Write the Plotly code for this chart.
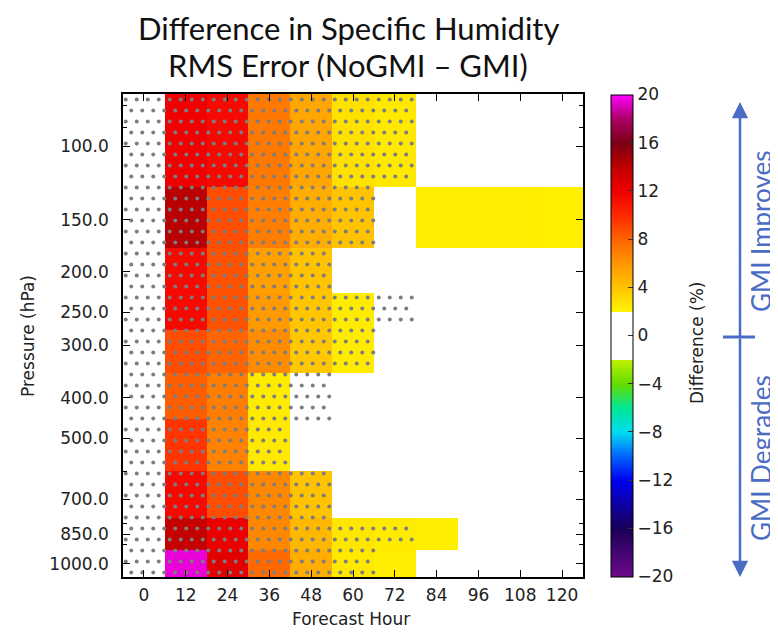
import numpy as np
import plotly.graph_objects as go

# ---------------- data ----------------
hours = [0, 12, 24, 36, 48, 60, 72, 84, 96, 108, 120]
levels = [100, 150, 200, 250, 300, 400, 500, 700, 850, 1000]
level_labels = [f"{p:.1f}" for p in levels]

# difference (%) rows = pressure levels (top to bottom), cols = forecast hours
diff = [
    [0.5, 12.0, 11.5, 7.2, 5.3, 2.8, 2.5, 0.8, 0.5, 0.3, 0.2],   # 100
    [0.6, 14.2, 8.8, 7.0, 5.0, 4.0, 1.2, 2.3, 2.3, 2.3, 2.2],    # 150
    [0.3, 11.5, 8.6, 5.6, 4.0, 1.0, 0.8, 0.5, 0.4, 0.3, 0.2],    # 200
    [0.3, 11.5, 8.6, 5.8, 3.9, 2.4, 1.5, 0.6, 0.4, 0.3, 0.2],    # 250
    [0.4, 8.8, 8.0, 6.4, 3.8, 2.4, 1.0, 0.5, 0.4, 0.3, 0.2],     # 300
    [0.4, 8.2, 7.0, 2.4, 1.8, 0.9, 0.5, 0.4, 0.3, 0.2, 0.2],     # 400
    [0.3, 9.6, 6.8, 2.5, 1.2, 0.6, 0.4, 0.3, 0.3, 0.2, 0.1],     # 500
    [0.3, 11.5, 8.8, 6.6, 4.0, 1.5, 0.8, 0.5, 0.3, 0.2, 0.1],    # 700
    [0.5, 13.8, 12.2, 6.6, 4.5, 2.6, 2.4, 2.3, 1.0, 0.5, 0.3],   # 850
    [0.5, 19.5, 12.6, 7.8, 5.0, 2.5, 2.3, 1.5, 0.8, 0.4, 0.2],   # 1000
]

# 1 = statistically significant (stippled)
significant = [
    [1, 1, 1, 1, 1, 1, 1, 0, 0, 0, 0],
    [1, 1, 1, 1, 1, 1, 0, 0, 0, 0, 0],
    [1, 1, 1, 1, 1, 0, 0, 0, 0, 0, 0],
    [1, 1, 1, 1, 1, 1, 1, 0, 0, 0, 0],
    [1, 1, 1, 1, 1, 1, 0, 0, 0, 0, 0],
    [1, 1, 1, 1, 1, 0, 0, 0, 0, 0, 0],
    [1, 1, 1, 1, 0, 0, 0, 0, 0, 0, 0],
    [1, 1, 1, 1, 1, 0, 0, 0, 0, 0, 0],
    [1, 1, 1, 1, 1, 1, 1, 0, 0, 0, 0],
    [1, 1, 1, 1, 1, 1, 0, 0, 0, 0, 0],
]

cb_ticks = [20, 16, 12, 8, 4, 0, -4, -8, -12, -16, -20]
cb_values = [-20, -16, -12, -10, -8, -6, -4, -2, -2, 2, 2, 4, 6, 8, 10, 12, 14, 16, 18, 20]
cb_colors = ["#6e0a8c", "#1a0058", "#0000f0", "#0064ff", "#00dcf0", "#00e696",
             "#64dc00", "#bef000", "#ffffff", "#ffffff", "#fff500", "#ffc300",
             "#ff9600", "#ff6400", "#ff2800", "#f00000", "#c00000", "#7a0014",
             "#aa0064", "#ff00ff"]

# ---------------- geometry derived from data ----------------
zmin, zmax = -20, 20
colorscale = [[(v - zmin) / (zmax - zmin), c] for v, c in zip(cb_values, cb_colors)]

lv = np.array(levels, dtype=float)
mids = (lv[:-1] + lv[1:]) / 2
y_edges = np.concatenate([[lv[0] - (lv[1] - lv[0]) / 2], mids, [lv[-1] + (lv[-1] - lv[-2]) / 2]])
hr = np.array(hours, dtype=float)
x_edges = np.concatenate([[hr[0] - 6], (hr[:-1] + hr[1:]) / 2, [hr[-1] + 6]])

# page body has an 8px margin: figure is drawn 8px in from the window edge
OFF = 8
FIG_W, FIG_H = 778 - OFF, 633 - OFF
L, T, W_PX, H_PX = 123 - OFF, 94 - OFF, 460, 483


def px(X):  # window x pixel -> paper x
    return (X - 123) / W_PX


def py(Y):  # window y pixel -> paper y
    return (577 - Y) / H_PX


# stipple lattice (staggered), in hours / log10(pressure)
xr = (x_edges[0], x_edges[-1])
yr = (np.log10(y_edges[-1]), np.log10(y_edges[0]))
dx = 11.0 * (xr[1] - xr[0]) / W_PX
dy = 11.0 * (yr[0] - yr[1]) / H_PX
sig = np.array(significant)
dot_x, dot_y = [], []
ly = np.log10(y_edges[0]) + dy * 0.5
j = 0
while ly < np.log10(y_edges[-1]):
    off = 0.25 * dx if j % 2 == 0 else 0.75 * dx
    p = 10 ** ly
    r = np.searchsorted(y_edges, p) - 1
    xx = xr[0] + off
    while xx < xr[1]:
        c = int((xx - xr[0]) // 12)
        if 0 <= r < len(levels) and 0 <= c < len(hours) and sig[r, c]:
            dot_x.append(xx)
            dot_y.append(p)
        xx += dx
    ly += dy
    j += 1

# ---------------- figure ----------------
axis_font = dict(family="DejaVu Sans", size=17, color="#222")

fig = go.Figure()
fig.add_trace(go.Heatmap(
    z=diff, x=hours, y=y_edges, zmin=zmin, zmax=zmax, colorscale=colorscale,
    hoverinfo="skip",
    colorbar=dict(
        x=px(611), xanchor="left", xpad=0, y=0.5, yanchor="middle", ypad=0,
        thickness=22, thicknessmode="pixels", len=482, lenmode="pixels",
        outlinewidth=1, outlinecolor="black",
        tickvals=cb_ticks, ticks="inside", ticklen=5, tickcolor="#333",
        tickfont=axis_font,
    ),
))
fig.add_trace(go.Scatter(
    x=dot_x, y=dot_y, mode="markers", hoverinfo="skip", showlegend=False,
    marker=dict(size=4, color="#7d7d7d", line=dict(width=0)),
))

fig.update_xaxes(
    range=[xr[0], xr[1]], tickvals=hours, ticks="inside", ticklen=7, tickwidth=1,
    tickcolor="black", showline=True, linecolor="black", linewidth=1.5,
    mirror="allticks", showgrid=False, zeroline=False, tickfont=axis_font,
    ticklabelstandoff=2,
)
fig.update_yaxes(
    type="log", range=[yr[0], yr[1]], tickvals=levels, ticktext=level_labels,
    ticks="inside", ticklen=7, tickwidth=1, tickcolor="black",
    showline=True, linecolor="black", linewidth=1.5, mirror="allticks",
    showgrid=False, zeroline=False, tickfont=axis_font, ticklabelstandoff=9,
    minor=dict(tickvals=[80, 90, 600, 800, 900], ticks="inside", ticklen=4, tickcolor="black"),
)

blue = "#4a6cc6"
side_font = dict(family="Lato", size=26, color=blue)
title_font = dict(family="Lato", size=31, color="#111")
ann = [
    dict(text="Difference in Specific Humidity", x=px(348), y=py(28), font=title_font),
    dict(text="RMS Error (NoGMI \u2013 GMI)", x=px(348), y=py(65), font=title_font),
    dict(text="Forecast Hour", x=px(351), y=py(619), font=axis_font),
    dict(text="Pressure (hPa)", x=px(28), y=py(336), textangle=-90, font=axis_font),
    dict(text="Difference (%)", x=px(697), y=py(343), textangle=-90, font=axis_font),
    dict(text="GMI Improves", x=px(761), y=py(232), textangle=-90, font=side_font),
    dict(text="GMI Degrades", x=px(761), y=py(458), textangle=-90, font=side_font),
]
annotations = [dict(a, xref="paper", yref="paper", showarrow=False,
                    xanchor="center", yanchor="middle") for a in ann]
annotations += [
    dict(x=px(740), y=py(102), xref="paper", yref="paper", text="",
         showarrow=True, ax=0, ay=236, arrowhead=2, arrowsize=1.3, arrowwidth=2.5,
         arrowcolor=blue, standoff=0),
    dict(x=px(740), y=py(577), xref="paper", yref="paper", text="",
         showarrow=True, ax=0, ay=-240, arrowhead=2, arrowsize=1.3, arrowwidth=2.5,
         arrowcolor=blue, standoff=0),
]

shapes = [
    dict(type="line", xref="paper", yref="paper", x0=px(723), x1=px(755),
         y0=py(337), y1=py(337), line=dict(color=blue, width=3)),
    dict(type="line", xref="paper", yref="paper", x0=px(775), x1=px(775),
         y0=py(OFF), y1=py(633), line=dict(color="#cfcfcf", width=1)),
]

fig.update_layout(
    width=FIG_W, height=FIG_H,
    margin=dict(l=L, r=FIG_W - L - W_PX, t=T, b=FIG_H - T - H_PX, autoexpand=False),
    plot_bgcolor="white", paper_bgcolor="white", showlegend=False,
    annotations=annotations, shapes=shapes,
)

fig.write_html("out.html")
